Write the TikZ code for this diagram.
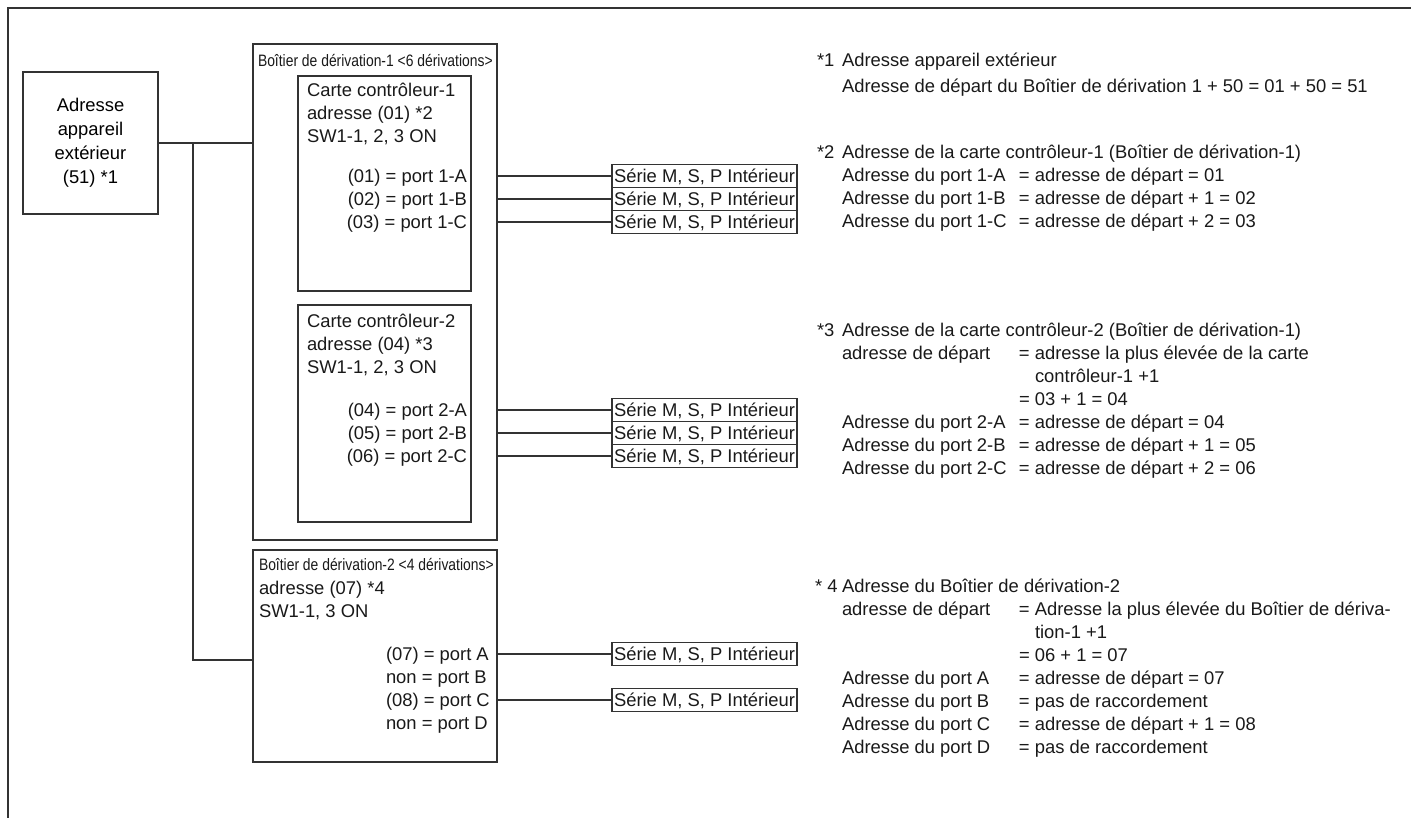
\documentclass[tikz,border=0pt]{standalone}
\usepackage{fontspec}
\setmainfont{Liberation Sans}
\usepackage{graphicx}
\newcommand{\pxbox}[5]{\node[boxs, anchor=north west, minimum width={(#4-#2)*0.75pt}, minimum height={(#5-#3)*0.75pt}] (#1) at (#2,#3) {};}
\newcommand{\ttltext}[1]{\scalebox{0.84}[1]{#1}}
\begin{document}
\begin{tikzpicture}[x=0.75pt,y=-0.75pt,
  every node/.style={inner sep=0pt, outer sep=0pt},
  wire/.style={line width=0.8pt, draw=black!80},
  frame/.style={line width=1.1pt, draw=black!80},
  boxs/.style={draw=black!80, line width=0.8pt, rectangle},
  tx/.style={font=\fontsize{13.8pt}{17pt}\selectfont, text height=9.9pt, text depth=0pt, text=black!90, anchor=west},
  ttl/.style={font=\fontsize{12.4pt}{15pt}\selectfont, text height=8.9pt, text depth=0pt, text=black!90, anchor=west},
  ind/.style={boxs, font=\fontsize{13.8pt}{17pt}\selectfont, text height=9.9pt, text depth=0pt, text=black!90, anchor=west, minimum width=138.75pt, minimum height=17.25pt, inner xsep=1.5pt}
]
\useasboundingbox (0,0) rectangle (1411,818);
% outer frame (clipped)
\coordinate (fr) at (1411,8);
\coordinate (fc) at (8,8);
\coordinate (fb) at (8,818);
\draw[frame] (fr) -- (fc) -- (fb);

% outdoor unit
\node[boxs, font=\fontsize{13.8pt}{18pt}\selectfont, align=center, minimum width=101.25pt, minimum height=106.5pt] (outdoor) at (90.5,143) {Adresse\\appareil\\extérieur\\(51) *1};

% branch boxes and cards
\pxbox{b1}{253}{44}{497}{540}
\pxbox{c1}{298}{76}{471}{291}
\pxbox{c2}{298}{305}{471}{522}
\pxbox{b2}{253}{550}{497}{762}

% trunk connectors
\coordinate (j1) at (193,143);
\coordinate (j2) at (193,660);
\draw[wire] (outdoor.east) -- (outdoor.east -| b1.west);
\draw[wire] (j1) -- (j2) -- (j2 -| b2.west);

% box 1 title
\node[ttl] (b1t) at (258,61) {\ttltext{Boîtier de dérivation-1 <6 dérivations>}};
% card 1
\node[tx] (c1a) at (307,90) {Carte contrôleur-1};
\node[tx] (c1b) at (307,113) {adresse (01) *2};
\node[tx] (c1c) at (307,136) {SW1-1, 2, 3 ON};
\node[tx, anchor=east] (c1p1) at (467,176) {(01) = port 1-A};
\node[tx, anchor=east] (c1p2) at (467,199) {(02) = port 1-B};
\node[tx, anchor=east] (c1p3) at (467,222) {(03) = port 1-C};
% card 2
\node[tx] (c2a) at (307,321) {Carte contrôleur-2};
\node[tx] (c2b) at (307,344) {adresse (04) *3};
\node[tx] (c2c) at (307,367) {SW1-1, 2, 3 ON};
\node[tx, anchor=east] (c2p1) at (467,410) {(04) = port 2-A};
\node[tx, anchor=east] (c2p2) at (467,433) {(05) = port 2-B};
\node[tx, anchor=east] (c2p3) at (467,456) {(06) = port 2-C};
% box 2
\node[ttl] (b2t) at (259,565) {\ttltext{Boîtier de dérivation-2 <4 dérivations>}};
\node[tx] (b2a) at (259,588) {adresse (07) *4};
\node[tx] (b2b) at (259,611) {SW1-1, 3 ON};
\node[tx] (b2p1) at (386,654) {(07) = port A};
\node[tx] (b2p2) at (386,677) {non = port B};
\node[tx] (b2p3) at (386,700) {(08) = port C};
\node[tx] (b2p4) at (386,723) {non = port D};

% indoor units
\foreach \y/\n in {176/a,199/b,222/c}{
  \node[ind] (i1\n) at (612,\y) {Série M, S, P Intérieur};
  \draw[wire] (i1\n.west) -- (i1\n.west -| b1.east);
}
\foreach \y/\n in {410/a,433/b,456/c}{
  \node[ind] (i2\n) at (612,\y) {Série M, S, P Intérieur};
  \draw[wire] (i2\n.west) -- (i2\n.west -| b1.east);
}
\foreach \y/\n in {654/a,700/c}{
  \node[ind] (i3\n) at (612,\y) {Série M, S, P Intérieur};
  \draw[wire] (i3\n.west) -- (i3\n.west -| b2.east);
}

% notes
\def\colw{132.75pt}
\node[tx] (s1) at (817,60) {*1};
\node[tx] (n1a) at (842,60) {Adresse appareil extérieur};
\node[tx] (n1b) at (842,86) {Adresse de départ du Boîtier de dérivation 1 + 50 = 01 + 50 = 51};

\node[tx] (s2) at (817,152) {*2};
\node[tx] (n2a) at (842,152) {Adresse de la carte contrôleur-1 (Boîtier de dérivation-1)};
\node[tx] (n2b) at (842,175) {\makebox[\colw][l]{Adresse du port 1-A}= adresse de départ = 01};
\node[tx] (n2c) at (842,198) {\makebox[\colw][l]{Adresse du port 1-B}= adresse de départ + 1 = 02};
\node[tx] (n2d) at (842,221) {\makebox[\colw][l]{Adresse du port 1-C}= adresse de départ + 2 = 03};

\node[tx] (s3) at (817,330) {*3};
\node[tx] (n3a) at (842,330) {Adresse de la carte contrôleur-2 (Boîtier de dérivation-1)};
\node[tx] (n3b) at (842,353) {\makebox[\colw][l]{adresse de départ}= adresse la plus élevée de la carte};
\node[tx] (n3c) at (1035,376) {contrôleur-1 +1};
\node[tx] (n3d) at (1019,399) {= 03 + 1 = 04};
\node[tx] (n3e) at (842,422) {\makebox[\colw][l]{Adresse du port 2-A}= adresse de départ = 04};
\node[tx] (n3f) at (842,445) {\makebox[\colw][l]{Adresse du port 2-B}= adresse de départ + 1 = 05};
\node[tx] (n3g) at (842,468) {\makebox[\colw][l]{Adresse du port 2-C}= adresse de départ + 2 = 06};

\node[tx] (s4) at (815,586) {* 4};
\node[tx] (n4a) at (842,586) {Adresse du Boîtier de dérivation-2};
\node[tx] (n4b) at (842,609) {\makebox[\colw][l]{adresse de départ}= Adresse la plus élevée du Boîtier de dériva-};
\node[tx] (n4c) at (1035,632) {tion-1 +1};
\node[tx] (n4d) at (1019,655) {= 06 + 1 = 07};
\node[tx] (n4e) at (842,678) {\makebox[\colw][l]{Adresse du port A}= adresse de départ = 07};
\node[tx] (n4f) at (842,701) {\makebox[\colw][l]{Adresse du port B}= pas de raccordement};
\node[tx] (n4g) at (842,724) {\makebox[\colw][l]{Adresse du port C}= adresse de départ + 1 = 08};
\node[tx] (n4h) at (842,747) {\makebox[\colw][l]{Adresse du port D}= pas de raccordement};
\end{tikzpicture}
\end{document}
